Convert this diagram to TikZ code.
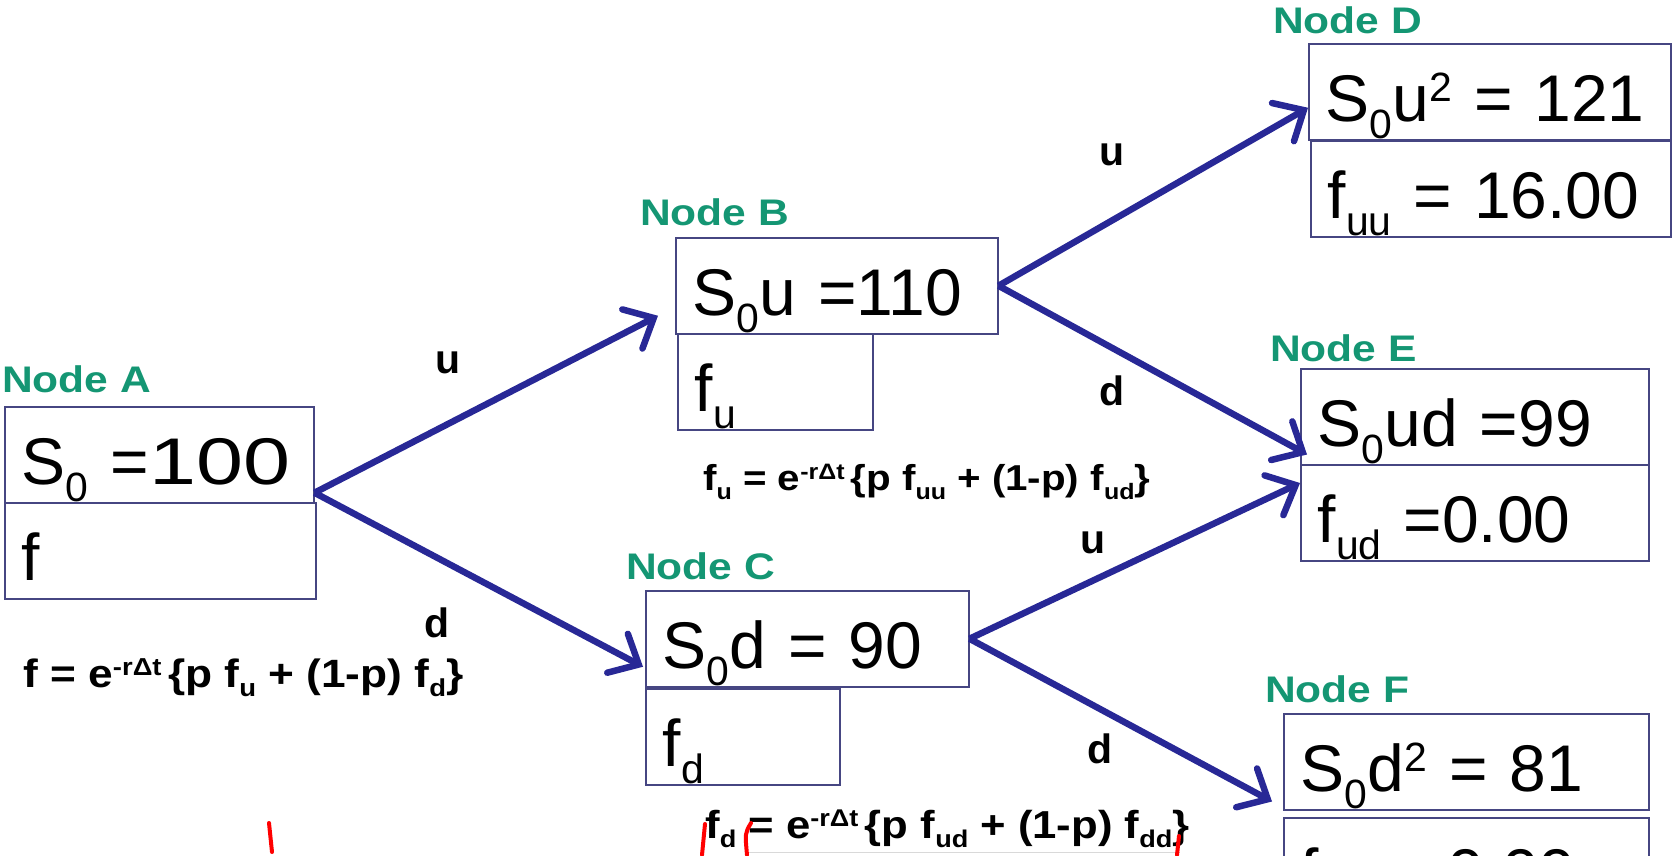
\documentclass[tikz,border=0pt]{standalone}
\usepackage{fontspec}
\setmainfont{Liberation Sans}
\newfontfamily\widesans[FakeStretch=1.15]{Liberation Sans}
\newfontfamily\eqsans[FakeStretch=1.12]{Liberation Sans}
\usetikzlibrary{arrows.meta}

\definecolor{nodegreen}{RGB}{20,150,115}
\definecolor{branchblue}{RGB}{40,40,150}
\definecolor{cellline}{RGB}{70,70,130}

\newcommand{\lo}[1]{\raisebox{-0.25em}{\scalebox{0.62}{#1}}}
\newcommand{\hi}[1]{\raisebox{0.3em}{\scalebox{0.62}{#1}}}
\newcommand{\bigtxt}{\fontsize{66}{70}\selectfont}

\tikzset{
  cell/.style={draw=cellline, line width=1.5pt, anchor=north west,
    inner xsep=17pt, inner ysep=0pt, text height=78pt, text depth=18pt,
    text width=#1, align=left, font=\bigtxt,
    execute at begin node=\hbox\bgroup, execute at end node=\egroup},
  nodetag/.style={text=nodegreen, anchor=base west, inner sep=0pt,
    font=\widesans\bfseries\fontsize{37}{40}\selectfont},
  formula/.style={anchor=base west, inner sep=0pt,
    font=\eqsans\bfseries\fontsize{#1}{42}\selectfont},
  formula/.default=38,
  move/.style={anchor=base, inner sep=0pt,
    font=\bfseries\fontsize{41}{45}\selectfont},
  branch/.style={draw=branchblue, line width=6.5pt,
    -{Straight Barb[length=24pt,width=44pt,line cap=round]}},
}

\begin{document}
\begin{tikzpicture}[x=1pt, y=-1pt]
\clip (0,0) rectangle (1672,855);
\useasboundingbox (0,0) rectangle (1672,855);

% node A
\node[nodetag] (tagA) at (2,392) {Node A};
\node[cell=275pt] (As) at (4,406) {S\lo{0} =\scalebox{1.28}[1]{100}};
\node[cell=277pt] (Af) at (4,502) {f};
\node[formula=39.5] (eqA) at (23,687) {f = e\hi{-rΔt}\,\{p f\lo{u} + (1-p) f\lo{d}\}};

% node B
\node[nodetag] (tagB) at (640,225) {Node B};
\node[cell=288pt] (Bs) at (675,237) {S\lo{0}u =110};
\node[cell=161pt] (Bf) at (677,333) {f\lo{u}};
\node[formula=36] (eqB) at (703,490) {f\lo{u} = e\hi{-rΔt}\,\{p f\lo{uu} + (1-p) f\lo{ud}\}};

% node C
\node[nodetag] (tagC) at (626,579) {Node C};
\node[cell=289pt] (Cs) at (645,590) {S\lo{0}d = 90};
\node[cell=160pt] (Cf) at (645,688) {f\lo{d}};
\node[formula=39] (eqC) at (705,838) {f\lo{d} = e\hi{-rΔt}\,\{p f\lo{ud} + (1-p) f\lo{dd}\}};

% node D
\node[nodetag] (tagD) at (1273,33) {Node D};
\node[cell=328pt] (Ds) at (1308,43) {S\lo{0}u\hi{2} = 121};
\node[cell=326pt] (Df) at (1310,140) {f\lo{uu} = 16.00};

% node E
\node[nodetag] (tagE) at (1270,361) {Node E};
\node[cell=314pt] (Es) at (1300,368) {S\lo{0}ud =99};
\node[cell=314pt] (Ef) at (1300,464) {f\lo{ud} =0.00};

% node F
\node[nodetag] (tagF) at (1265,702) {Node F};
\node[cell=331pt] (Fs) at (1283,713) {S\lo{0}d\hi{2} = 81};
\node[cell=331pt] (Ff) at (1283,817) {f\lo{dd} = 0.00};

% branches
\draw[branch] ([yshift=-38pt]As.east) -- ([xshift=-17pt,yshift=-30pt]Bs.west);
\draw[branch] ([yshift=-38pt]As.east) -- ([xshift=-2pt,yshift=-28pt]Cs.west);
\draw[branch] (Bs.east) -- ([yshift=-16pt]Ds.west);
\draw[branch] (Bs.east) -- ([xshift=7pt,yshift=11pt]Es.south west);
\draw[branch] (Cs.east) -- ([yshift=-19pt]Ef.north west);
\draw[branch] (Cs.east) -- ([xshift=-11pt,yshift=9pt]Fs.south west);

\node[move] (uAB) at (448,373) {u};
\node[move] (dAC) at (437,637) {d};
\node[move] (uBD) at (1112,165) {u};
\node[move] (dBE) at (1112,405) {d};
\node[move] (uCE) at (1093,553) {u};
\node[move] (dCF) at (1100,763) {d};

% pen marks
\draw[gray!30, line width=1pt] (748,852) -- (1180,852);
\draw[red, line width=4pt, line cap=round] (269,823) -- (272,852);
\draw[red, line width=4pt, line cap=round] (705,824) -- (702,855);
\draw[red, line width=4pt, line cap=round] (751,823) .. controls (745,833) .. (747,855);
\draw[red, line width=4pt, line cap=round] (1179,836) -- (1177,855);
\end{tikzpicture}
\end{document}
